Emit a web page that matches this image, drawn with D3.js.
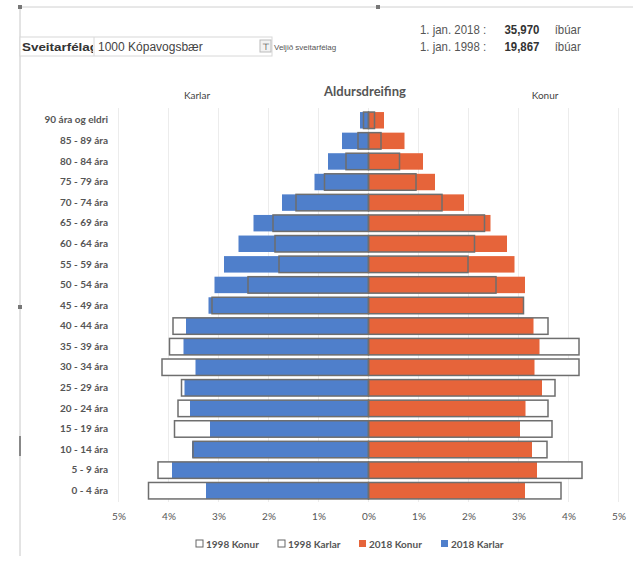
<!DOCTYPE html>
<html>
<head>
<meta charset="utf-8">
<script src="https://cdn.jsdelivr.net/npm/d3@7"></script>
<style>
  body { margin: 0; background: #fff; }
  svg { display: block; }
</style>
</head>
<body>
<div id="viz_area"></div>
<script>
// age groups, top to bottom
var ageGroups = ["90 ára og eldri", "85 - 89 ára", "80 - 84 ára", "75 - 79 ára", "70 - 74 ára",
                 "65 - 69 ára", "60 - 64 ára", "55 - 59 ára", "50 - 54 ára", "45 - 49 ára",
                 "40 - 44 ára", "35 - 39 ára", "30 - 34 ára", "25 - 29 ára", "20 - 24 ára",
                 "15 - 19 ára", "10 - 14 ára", "5 - 9 ára", "0 - 4 ára"];

// percent of population
var karlar2018 = [0.17, 0.53, 0.81, 1.08, 1.73, 2.30, 2.60, 2.89, 3.08, 3.20,
                  3.65, 3.70, 3.46, 3.68, 3.57, 3.17, 3.53, 3.93, 3.25];
var karlar1998 = [0.10, 0.21, 0.45, 0.88, 1.45, 1.91, 1.87, 1.79, 2.41, 3.13,
                  3.91, 3.98, 4.13, 3.74, 3.81, 3.88, 3.51, 4.21, 4.40];
var konur2018  = [0.31, 0.72, 1.09, 1.33, 1.91, 2.44, 2.77, 2.92, 3.13, 3.09,
                  3.30, 3.42, 3.32, 3.47, 3.14, 3.03, 3.27, 3.37, 3.13];
var konur1998  = [0.12, 0.25, 0.62, 0.95, 1.47, 2.32, 2.12, 1.99, 2.55, 3.10,
                  3.59, 4.21, 4.21, 3.73, 3.59, 3.67, 3.57, 4.27, 3.85];

var xTicks = [-5, -4, -3, -2, -1, 0, 1, 2, 3, 4, 5];
var legendItems = ["1998 Konur", "1998 Karlar", "2018 Konur", "2018 Karlar"];

var blue = "#4f7fcb";
var orange = "#e6643a";
var outline = "#6e6e6e";

function draw() {
    var w = 633, h = 563;

    var svg = d3.select("#viz_area")
                .append("svg")
                .attr("width", w)
                .attr("height", h);

    // frame lines (chart selection border)
    svg.append("line").attr("x1", 20).attr("x2", 633).attr("y1", 7).attr("y2", 7)
       .style("stroke", "#d0d0d0");
    svg.append("line").attr("x1", 20).attr("x2", 20).attr("y1", 7).attr("y2", 556)
       .style("stroke", "#c8c8c8");
    svg.append("rect").attr("x", 18).attr("y", 5).attr("width", 4).attr("height", 4).style("fill", "#777");
    svg.append("rect").attr("x", 376).attr("y", 5).attr("width", 4).attr("height", 4).style("fill", "#777");
    svg.append("rect").attr("x", 18).attr("y", 305).attr("width", 4).attr("height", 4).style("fill", "#777");
    svg.append("rect").attr("x", 19).attr("y", 436).attr("width", 2).attr("height", 20).style("fill", "#888");

    // header: municipality chooser
    svg.append("clipPath").attr("id", "labelClip")
       .append("rect").attr("x", 20).attr("y", 37).attr("width", 73).attr("height", 19);
    svg.append("rect").attr("x", 20).attr("y", 37).attr("width", 252).attr("height", 19)
       .style("fill", "#fff").style("stroke", "#d8d8d8");
    svg.append("line").attr("x1", 94).attr("x2", 94).attr("y1", 37).attr("y2", 56)
       .style("stroke", "#d8d8d8");
    svg.append("text").attr("x", 22).attr("y", 51)
       .attr("clip-path", "url(#labelClip)")
       .style("font-family", "Liberation Sans, Arial").style("font-size", "11px")
       .style("font-weight", "bold").style("fill", "#333")
       .text("Sveitarfélag").attr("textLength", 76).attr("lengthAdjust", "spacingAndGlyphs");
    svg.append("text").attr("x", 98).attr("y", 51)
       .style("font-family", "Liberation Sans, Arial").style("font-size", "12px").style("fill", "#444")
       .text("1000 Kópavogsbær");
    svg.append("rect").attr("x", 260).attr("y", 40).attr("width", 11).attr("height", 12)
       .style("fill", "#f2f2f2").style("stroke", "#bbb");
    svg.append("text").attr("x", 265.5).attr("y", 50).attr("text-anchor", "middle")
       .style("font-family", "Liberation Sans, Arial").style("font-size", "9px").style("fill", "#333")
       .text("⊤");
    svg.append("text").attr("x", 274).attr("y", 50)
       .style("font-family", "Liberation Sans, Arial").style("font-size", "8px").style("fill", "#555")
       .text("Veljið sveitarfélag");

    // header: population counts (slightly condensed)
    var popRows = [["1. jan. 2018 :", "35,970", 34], ["1. jan. 1998 :", "19,867", 51]];
    var hdr = svg.append("g").attr("transform", "translate(420,0) scale(0.88,1)");
    popRows.forEach(function(r) {
        hdr.append("text").attr("x", 0).attr("y", r[2])
           .style("font-family", "Liberation Sans, Arial").style("font-size", "13px").style("fill", "#555")
           .text(r[0]);
        hdr.append("text").attr("x", 96).attr("y", r[2])
           .style("font-family", "Liberation Sans, Arial").style("font-size", "13px")
           .style("font-weight", "bold").style("fill", "#333")
           .text(r[1]);
        hdr.append("text").attr("x", 153).attr("y", r[2])
           .style("font-family", "Liberation Sans, Arial").style("font-size", "13px").style("fill", "#555")
           .text("íbúar");
    });

    // scales
    var x = d3.scaleLinear().domain([-5, 5]).range([118.5, 618.5]);
    var y = d3.scaleBand().domain(ageGroups).range([110, 501]).paddingInner(0.2).paddingOuter(0.1);

    var plot = svg.append("g");

    // faint vertical gridlines
    plot.selectAll("line.grid")
        .data(xTicks)
        .enter()
        .append("line")
        .attr("class", "grid")
        .attr("x1", (d) => x(d)).attr("x2", (d) => x(d))
        .attr("y1", 108).attr("y2", 502)
        .style("stroke", "#ececec");

    var rows = ageGroups.map(function(g, i) {
        return { g: g, k18: karlar2018[i], k98: karlar1998[i], f18: konur2018[i], f98: konur1998[i] };
    });

    // 1998 bars (white fill, behind)
    plot.selectAll("rect.k98bg").data(rows).enter().append("rect")
        .attr("x", (d) => x(-d.k98)).attr("width", (d) => x(0) - x(-d.k98))
        .attr("y", (d) => y(d.g)).attr("height", y.bandwidth())
        .style("fill", "#fff");
    plot.selectAll("rect.f98bg").data(rows).enter().append("rect")
        .attr("x", x(0)).attr("width", (d) => x(d.f98) - x(0))
        .attr("y", (d) => y(d.g)).attr("height", y.bandwidth())
        .style("fill", "#fff");

    // 2018 bars
    plot.selectAll("rect.k18").data(rows).enter().append("rect")
        .attr("class", "k18")
        .attr("x", (d) => x(-d.k18)).attr("width", (d) => x(0) - x(-d.k18))
        .attr("y", (d) => y(d.g)).attr("height", y.bandwidth())
        .style("fill", blue);
    plot.selectAll("rect.f18").data(rows).enter().append("rect")
        .attr("class", "f18")
        .attr("x", x(0)).attr("width", (d) => x(d.f18) - x(0))
        .attr("y", (d) => y(d.g)).attr("height", y.bandwidth())
        .style("fill", orange);

    // 1998 outlines on top
    plot.selectAll("rect.k98").data(rows).enter().append("rect")
        .attr("class", "k98")
        .attr("x", (d) => x(-d.k98)).attr("width", (d) => x(0) - x(-d.k98))
        .attr("y", (d) => y(d.g)).attr("height", y.bandwidth())
        .style("fill", "none").style("stroke", outline).style("stroke-width", 1.5);
    plot.selectAll("rect.f98").data(rows).enter().append("rect")
        .attr("class", "f98")
        .attr("x", x(0)).attr("width", (d) => x(d.f98) - x(0))
        .attr("y", (d) => y(d.g)).attr("height", y.bandwidth())
        .style("fill", "none").style("stroke", outline).style("stroke-width", 1.5);

    // y axis labels
    var yAxis = d3.axisLeft(y).tickSize(0).tickPadding(0);
    var yg = svg.append("g").attr("transform", "translate(108,0)").call(yAxis);
    yg.select(".domain").remove();
    yg.selectAll("text")
      .style("font-family", "Lato, Open Sans, sans-serif").style("font-size", "10px")
      .style("font-weight", "bold").style("fill", "#555");

    // x axis labels
    var xAxis = d3.axisBottom(x).tickValues(xTicks).tickSize(0).tickPadding(0)
                  .tickFormat((d) => Math.abs(d) + "%");
    var xg = svg.append("g").attr("transform", "translate(0,513)").call(xAxis);
    xg.select(".domain").remove();
    xg.selectAll("text")
      .style("font-family", "Lato, Open Sans, sans-serif").style("font-size", "10px")
      .style("fill", "#555");

    // titles
    svg.append("text").attr("x", 365).attr("y", 96).attr("text-anchor", "middle")
       .style("font-family", "Lato, Open Sans, sans-serif").style("font-size", "13px")
       .style("font-weight", "bold").style("fill", "#555")
       .text("Aldursdreifing");
    svg.append("text").attr("x", 197).attr("y", 99).attr("text-anchor", "middle")
       .style("font-family", "Lato, Open Sans, sans-serif").style("font-size", "10px").style("fill", "#444")
       .text("Karlar");
    svg.append("text").attr("x", 545).attr("y", 99).attr("text-anchor", "middle")
       .style("font-family", "Lato, Open Sans, sans-serif").style("font-size", "10px").style("fill", "#444")
       .text("Konur");

    // legend
    var legendStyle = [
        { fill: "#fff", stroke: "#666" },
        { fill: "#fff", stroke: "#666" },
        { fill: orange, stroke: "none" },
        { fill: blue, stroke: "none" }
    ];
    var lg = svg.selectAll("g.legend")
                .data(legendItems)
                .enter()
                .append("g")
                .attr("class", "legend")
                .attr("transform", (d, i) => "translate(" + [196, 278, 359, 441][i] + ",544)");
    lg.append("rect")
      .attr("x", 0).attr("y", -4).attr("width", 7).attr("height", 7)
      .style("fill", (d, i) => legendStyle[i].fill)
      .style("stroke", (d, i) => legendStyle[i].stroke);
    lg.append("text")
      .attr("x", 10).attr("y", 3.5)
      .style("font-family", "Lato, Open Sans, sans-serif").style("font-size", "10px")
      .style("font-weight", "bold").style("fill", "#555")
      .text((d) => d);
}

window.onload = draw;
</script>
</body>
</html>
